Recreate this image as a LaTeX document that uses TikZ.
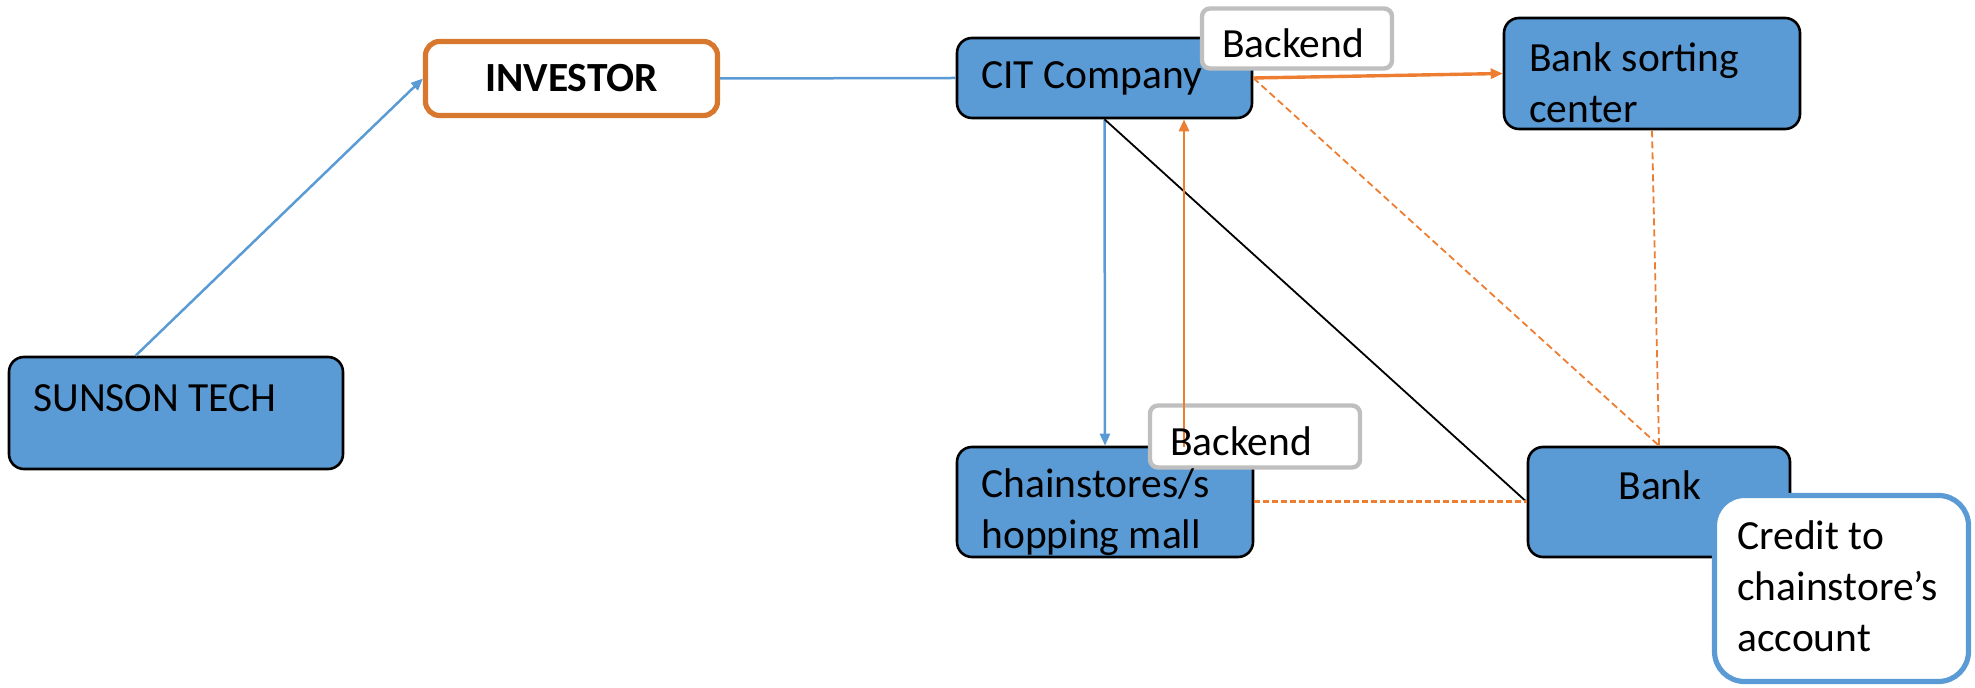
\documentclass[tikz,border=0pt]{standalone}
\usepackage{fontspec}
\setmainfont{Carlito}
\usetikzlibrary{arrows.meta,calc}
\definecolor{boxblue}{HTML}{5B9BD5}
\definecolor{lineorange}{HTML}{ED7D31}
\definecolor{invorange}{HTML}{D8782F}
\definecolor{backgray}{HTML}{BFBFBF}
\begin{document}
\begin{tikzpicture}[x=0.5pt,y=-0.5pt,
  box/.style={draw=black, line width=1.3pt, fill=boxblue, rounded corners=7.5pt, inner sep=0pt},
  invbox/.style={draw=invorange, line width=2.6pt, fill=white, rounded corners=7pt, inner sep=0pt,
    font=\fontsize{20.75}{25.5}\selectfont\bfseries},
  tagbox/.style={draw=backgray, line width=2.2pt, fill=white, rounded corners=4pt, inner sep=0pt},
  notebox/.style={draw=boxblue, line width=2.6pt, fill=white, rounded corners=15pt, inner sep=0pt},
  lbl/.style={inner sep=0pt, anchor=base west, font=\fontsize{20.75}{25.5}\selectfont},
  clbl/.style={inner sep=0pt, anchor=base, font=\fontsize{20.75}{25.5}\selectfont},
  tip/.style={-{Triangle[length=6pt,width=5pt]}},
  blueline/.style={draw=boxblue, line width=1.25pt},
  orangeline/.style={draw=lineorange, line width=1.7pt},
  orangedash/.style={draw=lineorange, line width=0.9pt, dash pattern=on 3.5pt off 2pt},
  orangedashthick/.style={draw=lineorange, line width=1.5pt, dash pattern=on 3pt off 1.5pt}
]
\useasboundingbox (0,0) rectangle (1975,688);

% main boxes
\node[box, minimum width=167pt, minimum height=56pt] (sunson) at (176,413) {};
\node[invbox, minimum width=146pt, minimum height=37pt] (investor) at (571.5,78.5) {INVESTOR};
\node[box, minimum width=147.5pt, minimum height=40pt] (cit) at (1104.5,78) {};
\node[box, minimum width=148pt, minimum height=55.5pt] (sort) at (1652,73.5) {};
\node[box, minimum width=148pt, minimum height=55pt] (chain) at (1105,502) {};
\node[box, minimum width=131pt, minimum height=55pt] (bank) at (1659,502) {};

% connectors
\coordinate (sunsonTop) at ($(sunson.north west)!0.38!(sunson.north east)$);
\draw[blueline, tip] (sunsonTop) -- (investor.west);
\draw[blueline] (investor.east) -- (cit.west);
\draw[blueline, tip] (cit.south) -- (chain.north);
\draw[black, line width=0.9pt] (cit.south) -- (bank.west);
\draw[orangeline, tip] (cit.east) -- (sort.west);
\draw[orangedash] (cit.east) -- (bank.north);
\draw[orangedash] (sort.south) -- (bank.north);
\draw[orangedashthick] (chain.east) -- (bank.west);

% overlay boxes
\node[tagbox, minimum width=95pt, minimum height=30pt] (backTop) at (1297,38.5) {};
\node[tagbox, minimum width=105pt, minimum height=31pt] (backBot) at (1255,436.5) {};
\node[notebox, minimum width=127pt, minimum height=93pt] (credit) at (1841.5,588.5) {};

% orange return arrow from chainstore backend
\coordinate (backStart) at (1184,447);
\draw[orangeline, line width=1.4pt, tip] (backStart) -- (backStart |- cit.south);

% texts
\node[lbl] (sunsonT) at (33,412) {SUNSON TECH};
\node[lbl] (citT) at (981,89) {CIT Company};
\node[lbl] (backTopT) at (1222,58) {Backend};
\node[lbl] (sortT) at (1529,72) {\begin{tabular}[t]{@{}l@{}}Bank sorting\\center\end{tabular}};
\node[lbl] (chainT) at (981,498) {\begin{tabular}[t]{@{}l@{}}Chainstores/s\\hopping mall\end{tabular}};
\node[lbl] (backBotT) at (1170,456) {Backend};
\node[clbl] (bankT) at (1660,500) {Bank};
\node[lbl] (creditT) at (1737,550) {\begin{tabular}[t]{@{}l@{}}Credit to\\chainstore’s\\account\end{tabular}};
\end{tikzpicture}
\end{document}
